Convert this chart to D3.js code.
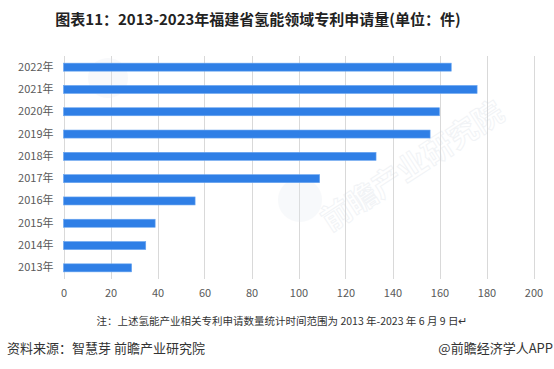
<!DOCTYPE html>
<html>
<head>
<meta charset="utf-8">
<script src="https://cdn.jsdelivr.net/npm/d3@7"></script>
<style>
  body { margin: 0; background: #fff; }
  svg text { font-family: "Noto Sans CJK SC", "Noto Sans", sans-serif; }
</style>
</head>
<body>
<div id="chart"></div>
<script>
// chart data
var years = ["2022年", "2021年", "2020年", "2019年", "2018年", "2017年", "2016年", "2015年", "2014年", "2013年"];
var patents = [165, 176, 160, 156, 133, 109, 56, 39, 35, 29];
var xTicks = [0, 20, 40, 60, 80, 100, 120, 140, 160, 180, 200];

var titleText = "图表11：2013-2023年福建省氢能领域专利申请量(单位：件)";
var noteText = "注：上述氢能产业相关专利申请数量统计时间范围为 2013 年-2023 年 6 月 9 日↵";
var sourceText = "资料来源：智慧芽 前瞻产业研究院";
var creditText = "@前瞻经济学人APP";

var w = 554, h = 369;
var plotLeft = 63.5, plotRight = 533.5, plotTop = 56, plotBottom = 279;

var svg = d3.select("#chart").append("svg")
	.attr("width", w)
	.attr("height", h);

var x = d3.scaleLinear().domain([0, 200]).range([plotLeft, plotRight]);
var y = d3.scaleBand().domain(years).range([plotTop, plotBottom])
	.paddingInner(0.64)
	.paddingOuter(0.32);

// vertical grid lines
svg.selectAll("line.grid")
	.data(xTicks)
	.enter().append("line")
	.attr("class", "grid")
	.attr("x1", function(d){ return Math.round(x(d)) + 0.5; })
	.attr("x2", function(d){ return Math.round(x(d)) + 0.5; })
	.attr("y1", plotTop)
	.attr("y2", plotBottom)
	.style("stroke", "#d9d9d9")
	.style("stroke-width", 1);

// faint watermark
var wm = svg.append("g").attr("opacity", 0.25);
wm.append("circle").attr("cx", 108).attr("cy", 78).attr("r", 20).style("fill", "#e3e9f0");
wm.append("circle").attr("cx", 300).attr("cy", 200).attr("r", 22).style("fill", "#e3e9f0");
wm.append("text")
	.attr("transform", "translate(330,232) rotate(-33)")
	.style("font-size", "30px")
	.style("font-weight", "bold")
	.style("fill", "none")
	.style("stroke", "#c9d2dc")
	.style("stroke-width", 1)
	.text("前瞻产业研究院");

// bars
svg.selectAll("rect.bar")
	.data(patents)
	.enter().append("rect")
	.attr("class", "bar")
	.attr("x", x(0))
	.attr("y", function(d, i){ return y(years[i]); })
	.attr("width", function(d){ return x(d) - x(0); })
	.attr("height", y.bandwidth())
	.style("fill", "#2f7fe6")
	.style("stroke", "#6aa6f0")
	.style("stroke-width", 0.6);

// category axis
var yAxis = svg.append("g")
	.attr("transform", "translate(" + (plotLeft - 10) + ",0)")
	.call(d3.axisLeft(y).tickSize(0).tickPadding(0));
yAxis.select(".domain").remove();
yAxis.selectAll("text")
	.style("font-size", "11px")
	.style("fill", "#595959");

// value axis
var xAxis = svg.append("g")
	.attr("transform", "translate(0," + plotBottom + ")")
	.call(d3.axisBottom(x).tickValues(xTicks).tickSize(0).tickPadding(10));
xAxis.select(".domain").remove();
xAxis.selectAll("text")
	.style("font-size", "11px")
	.style("fill", "#595959");

// title
svg.append("text")
	.attr("x", 258)
	.attr("y", 25)
	.attr("text-anchor", "middle")
	.style("font-size", "15px")
	.style("font-weight", "bold")
	.style("fill", "#222")
	.text(titleText);

// note
svg.append("text")
	.attr("x", 282)
	.attr("y", 325)
	.attr("text-anchor", "middle")
	.style("font-size", "10.5px")
	.style("fill", "#333")
	.text(noteText);

// footer
svg.append("text")
	.attr("x", 7)
	.attr("y", 353)
	.style("font-size", "13px")
	.style("fill", "#333")
	.text(sourceText);

svg.append("text")
	.attr("x", 553)
	.attr("y", 353)
	.attr("text-anchor", "end")
	.style("font-size", "13px")
	.style("fill", "#333")
	.text(creditText);
</script>
</body>
</html>
